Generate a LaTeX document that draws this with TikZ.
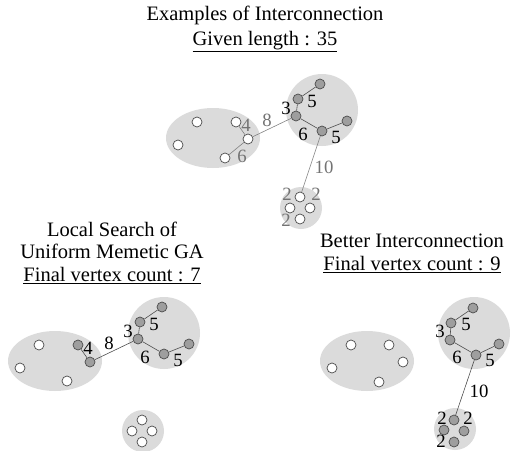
\documentclass[tikz,border=0pt]{standalone}
\usepackage{fontspec}
\setmainfont{Liberation Serif}
\usetikzlibrary{positioning}

\tikzset{
  region/.style={fill=black!14},
  vtx/.style={circle, draw=black!70, line width=0.6pt, fill=white,
    minimum size=0.3cm, inner sep=0pt},
  used/.style={vtx, fill=black!38},
  wire/.style={draw=black!70, line width=0.5pt},
  wt/.style={font=\fontsize{16}{16}\selectfont, inner sep=0pt},
  faint/.style={text=black!55},
  caption/.style={font=\fontsize{17.5}{19}\selectfont, align=center, inner sep=0pt}
}

\begin{document}
\begin{tikzpicture}[x=0.03cm, y=-0.03cm]
  \useasboundingbox (0,0) rectangle (510,450);

  % Given interconnection
  \node[caption, anchor=north, font=\fontsize{17.5}{21}\selectfont] (ttl) at (265,6)
    {Examples of Interconnection\\\underline{Given length : 35}};
  \begin{scope}
    \fill[region] (213,138) ellipse (47 and 30);
    \fill[region] (322,110) circle (36);
    \fill[region] (301,208) circle (21);
    \node[vtx] (t1) at (197,122) {};
    \node[vtx] (t2) at (178,145) {};
    \node[vtx] (t3) at (236,122) {};
    \node[vtx] (t4) at (248,139) {};
    \node[vtx] (t5) at (225,158) {};
    \node[used] (t6) at (320,84) {};
    \node[used] (t7) at (298,99) {};
    \node[used] (t8) at (296,116) {};
    \node[used] (t9) at (322,131) {};
    \node[used] (t10) at (347,121) {};
    \node[vtx] (t11) at (300,197) {};
    \node[vtx] (t12) at (290,208) {};
    \node[vtx] (t13) at (310,208) {};
    \node[vtx] (t14) at (300,219) {};
    \draw[wire, black!50] (t3) -- (t4) (t4) -- (t5) (t4) -- (t8) (t9) -- (t11);
    \draw[wire] (t6) -- (t7) -- (t8) -- (t9) -- (t10);
    \node[wt, faint] (tw4) at (246,125) {4};
    \node[wt, faint] (tw6) at (242,156) {6};
    \node[wt, faint] (tw8) at (267,120) {8};
    \node[wt, faint] (tw10) at (324,167) {10};
    \node[wt] (tw5a) at (312,101) {5};
    \node[wt] (tw3) at (286,108) {3};
    \node[wt] (tw6b) at (303,134) {6};
    \node[wt] (tw5b) at (336,137) {5};
    \node[wt, faint] (tw2a) at (287,194) {2};
    \node[wt, faint] (tw2b) at (316,194) {2};
    \node[wt, faint] (tw2c) at (286,220) {2};
  \end{scope}

  % Local search result
  \node[caption, anchor=north] (lttl) at (112,222)
    {Local Search of\\Uniform Memetic GA\\\underline{Final vertex count : 7}};
  \begin{scope}[shift={(-158,223)}]
    \fill[region] (213,138) ellipse (47 and 30);
    \fill[region] (322,110) circle (36);
    \fill[region] (301,208) circle (21);
    \node[vtx] (l1) at (197,122) {};
    \node[vtx] (l2) at (178,145) {};
    \node[used] (l3) at (236,122) {};
    \node[used] (l4) at (248,139) {};
    \node[vtx] (l5) at (225,158) {};
    \node[used] (l6) at (320,84) {};
    \node[used] (l7) at (298,99) {};
    \node[used] (l8) at (296,116) {};
    \node[used] (l9) at (322,131) {};
    \node[used] (l10) at (347,121) {};
    \node[vtx] (l11) at (300,197) {};
    \node[vtx] (l12) at (290,208) {};
    \node[vtx] (l13) at (310,208) {};
    \node[vtx] (l14) at (300,219) {};
    \draw[wire] (l3) -- (l4) -- (l8) (l6) -- (l7) -- (l8) -- (l9) -- (l10);
    \node[wt] (lw4) at (246,125) {4};
    \node[wt] (lw8) at (267,120) {8};
    \node[wt] (lw5a) at (312,101) {5};
    \node[wt] (lw3) at (286,108) {3};
    \node[wt] (lw6) at (303,134) {6};
    \node[wt] (lw5b) at (336,137) {5};
  \end{scope}

  % Better interconnection
  \node[caption, anchor=north] (rttl) at (412,234)
    {Better Interconnection\\\underline{Final vertex count : 9}};
  \begin{scope}[shift={(154,223)}]
    \fill[region] (213,138) ellipse (47 and 30);
    \fill[region] (320,110) circle (36);
    \fill[region] (301,206) circle (21);
    \node[vtx] (r1) at (197,122) {};
    \node[vtx] (r2) at (178,145) {};
    \node[vtx] (r3) at (235,122) {};
    \node[vtx] (r4) at (249,139) {};
    \node[vtx] (r5) at (225,159) {};
    \node[used] (r6) at (319,85) {};
    \node[used] (r7) at (297,100) {};
    \node[used] (r8) at (296,117) {};
    \node[used] (r9) at (322,132) {};
    \node[used] (r10) at (345,121) {};
    \node[used] (r11) at (300,197) {};
    \node[used] (r12) at (290,207) {};
    \node[used] (r13) at (310,208) {};
    \node[used] (r14) at (300,219) {};
    \draw[wire] (r6) -- (r7) -- (r8) -- (r9) -- (r10) (r9) -- (r11);
    \node[wt] (rw5a) at (312,101) {5};
    \node[wt] (rw3) at (286,108) {3};
    \node[wt] (rw6) at (303,134) {6};
    \node[wt] (rw5b) at (336,137) {5};
    \node[wt] (rw10) at (325,168) {10};
    \node[wt] (rw2a) at (288,195) {2};
    \node[wt] (rw2b) at (314,195) {2};
    \node[wt] (rw2c) at (287,218) {2};
  \end{scope}
\end{tikzpicture}
\end{document}
